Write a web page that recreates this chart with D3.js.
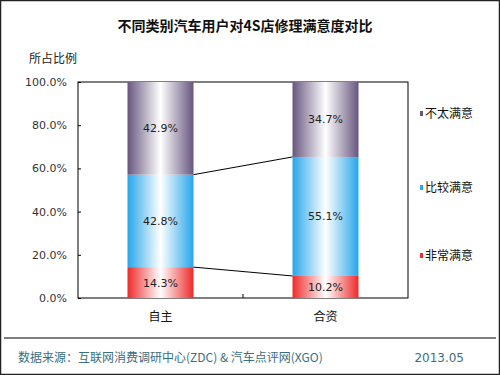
<!DOCTYPE html>
<meta charset="utf-8">
<title>不同类别汽车用户对4S店修理满意度对比</title>
<style type="text/css">
body { margin: 0; background: #fff; }
text { font-family: "Noto Sans CJK SC", "DejaVu Sans", sans-serif; }
.num { font-family: "DejaVu Sans", sans-serif; }
</style>
<script src="https://cdn.jsdelivr.net/npm/d3@7"></script>
<body>
<script>
var width = 500, height = 375;
var categories = ["自主", "合资"];
var seriesNames = ["非常满意", "比较满意", "不太满意"];
var veryValues = [14.3, 10.2];
var fairValues = [42.8, 55.1];
var notValues = [42.9, 34.7];
var yTicks = [0, 20, 40, 60, 80, 100];
var colors = ["#ee2a2a", "#27a6ea", "#67567f"];

var svg = d3.select("body").append("svg").attr("width", width).attr("height", height);

// outer frame
svg.append("rect").attr("x", 0.5).attr("y", 0.5).attr("width", width - 1).attr("height", height - 1)
  .attr("fill", "#fff").attr("stroke", "#222").attr("stroke-width", 1.5);

var defs = svg.append("defs");
colors.forEach(function(c, i) {
  var g = defs.append("linearGradient").attr("id", "grad" + i)
    .attr("x1", "0%").attr("x2", "100%").attr("y1", "0%").attr("y2", "0%");
  g.append("stop").attr("offset", "0%").attr("stop-color", c);
  g.append("stop").attr("offset", "50%").attr("stop-color", "#fff");
  g.append("stop").attr("offset", "100%").attr("stop-color", c);
});

var pLeft = 78, pRight = 408, pTop = 82, pBottom = 298;
var x = d3.scaleBand().domain(categories).range([pLeft, pRight]).paddingInner(0.6).paddingOuter(0.3);
var y = d3.scaleLinear().domain([0, 100]).range([pBottom, pTop]);

var rows = categories.map(function(c, i) {
  return { cat: c, vals: [veryValues[i], fairValues[i], notValues[i]] };
});
var stack = d3.stack().keys([0, 1, 2]).value(function(d, k) { return d.vals[k]; });
var layers = stack(rows);

// plot frame
svg.append("rect").attr("x", pLeft).attr("y", pTop).attr("width", pRight - pLeft).attr("height", pBottom - pTop)
  .attr("fill", "none").attr("stroke", "#000").attr("stroke-width", 1);

// bars
layers.forEach(function(layer, k) {
  svg.selectAll(".seg" + k).data(layer).enter().append("rect")
    .attr("x", function(d) { return x(d.data.cat); })
    .attr("y", function(d) { return y(d[1]); })
    .attr("width", x.bandwidth())
    .attr("height", function(d) { return y(d[0]) - y(d[1]); })
    .attr("fill", "url(#grad" + k + ")");
  svg.selectAll(".lab" + k).data(layer).enter().append("text")
    .attr("class", "num")
    .attr("x", function(d) { return x(d.data.cat) + x.bandwidth() / 2; })
    .attr("y", function(d) { return (y(d[0]) + y(d[1])) / 2 + 4; })
    .attr("text-anchor", "middle").attr("font-size", 11).attr("fill", "#222")
    .text(function(d, i) { return rows[i].vals[k].toFixed(1) + "%"; });
});

// series lines between bars
[0, 1].forEach(function(k) {
  var l = layers[k];
  svg.append("line")
    .attr("x1", x(categories[0]) + x.bandwidth()).attr("y1", y(l[0][1]))
    .attr("x2", x(categories[1])).attr("y2", y(l[1][1]))
    .attr("stroke", "#000").attr("stroke-width", 1);
});

// y axis
var yAxis = svg.append("g").attr("transform", "translate(" + pLeft + ",0)")
  .call(d3.axisRight(y).tickValues(yTicks).tickSize(3).tickFormat(""));
yAxis.select(".domain").remove();
yAxis.selectAll("line").attr("stroke", "#000");
svg.selectAll(".ylab").data(yTicks).enter().append("text")
  .attr("class", "num")
  .attr("x", 67).attr("y", function(d) { return y(d) + 4; })
  .attr("text-anchor", "end").attr("font-size", 11).attr("fill", "#333")
  .text(function(d) { return d.toFixed(1) + "%"; });

// x axis
var xAxis = svg.append("g").attr("transform", "translate(0," + pBottom + ")")
  .call(d3.axisBottom(x).tickSize(0).tickPadding(14));
xAxis.select(".domain").remove();
xAxis.selectAll("text").attr("font-size", 12).attr("fill", "#111")
  .attr("font-family", "Noto Sans CJK SC");
svg.append("line").attr("x1", (pLeft + pRight) / 2).attr("x2", (pLeft + pRight) / 2)
  .attr("y1", pBottom).attr("y2", pBottom - 4).attr("stroke", "#000");

// legend
var legendY = [260, 192, 118];
seriesNames.forEach(function(n, k) {
  svg.append("rect").attr("x", 420).attr("y", legendY[k] - 7).attr("width", 3).attr("height", 5)
    .attr("fill", colors[k]);
  svg.append("text").attr("x", 425).attr("y", legendY[k]).attr("font-size", 12).attr("fill", "#111")
    .text(n);
});

// title
svg.append("text").attr("x", 245).attr("y", 31).attr("text-anchor", "middle")
  .attr("font-size", 14).attr("font-weight", "bold").attr("fill", "#111")
  .text("不同类别汽车用户对4S店修理满意度对比");
svg.append("text").attr("x", 29).attr("y", 63).attr("font-size", 12).attr("fill", "#222").text("所占比例");

// footer
svg.append("line").attr("x1", 4).attr("x2", 496).attr("y1", 338).attr("y2", 338)
  .attr("stroke", "#000").attr("stroke-width", 1.2);
svg.append("text").attr("x", 18).attr("y", 362).attr("font-size", 12).attr("fill", "#3b6e80")
  .text("数据来源：互联网消费调研中心(ZDC) & 汽车点评网(XGO)");
svg.append("text").attr("class", "num").attr("x", 464).attr("y", 362).attr("text-anchor", "end")
  .attr("font-size", 12).attr("fill", "#3b6e80").text("2013.05");
</script>
</body>
